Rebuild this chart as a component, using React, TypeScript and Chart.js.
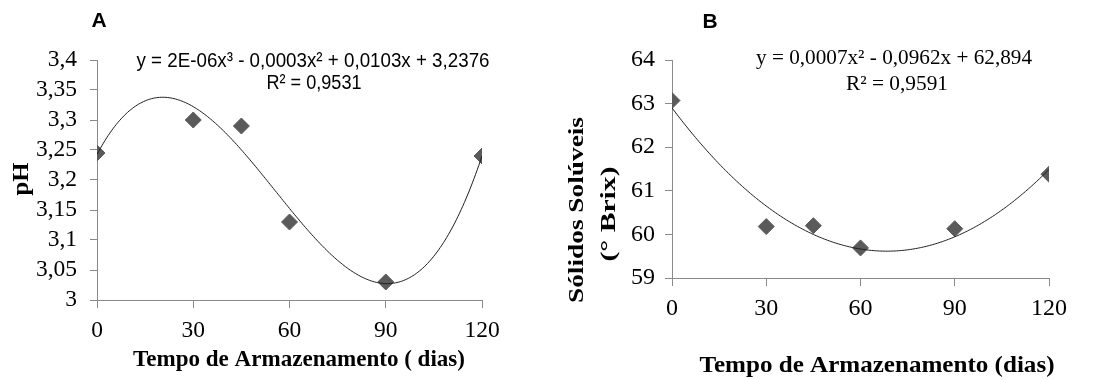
import { useEffect, useRef } from "react";
import { Chart, registerables } from "chart.js";

Chart.register(...registerables);

// Storage time (days) and measured values
const DAYS = [0, 30, 45, 60, 90, 120];
const PH = [3.245, 3.3, 3.29, 3.13, 3.03, 3.24];
const BRIX = [63.07, 60.18, 60.2, 59.69, 60.13, 61.38];

// Axis tick values
const X_TICKS = [0, 30, 60, 90, 120];
const PH_TICKS = [3, 3.05, 3.1, 3.15, 3.2, 3.25, 3.3, 3.35, 3.4];
const BRIX_TICKS = [59, 60, 61, 62, 63, 64];

// Trendline annotations
const PH_EQUATION = "y = 2E-06x³ - 0,0003x² + 0,0103x + 3,2376";
const PH_R2 = "R² = 0,9531";
const BRIX_EQUATION = "y = 0,0007x² - 0,0962x + 62,894";
const BRIX_R2 = "R² = 0,9591";

const X_TITLE_A = "Tempo de Armazenamento ( dias)";
const X_TITLE_B = "Tempo de Armazenamento (dias)";

const MARK = "#5a5a5a";
const AXIS = "#8a8a8a";
const SERIF = "'Liberation Serif', 'Times New Roman', serif";
const SANS = "'Liberation Sans', Arial, sans-serif";

// Least-squares polynomial fit, returns [c0, c1, ..., cdeg]
function polyfit(xs: number[], ys: number[], deg: number): number[] {
  const n = deg + 1;
  const A: number[][] = [];
  for (let r = 0; r < n; r++) {
    const row: number[] = [];
    for (let c = 0; c < n; c++) {
      let s = 0;
      for (let i = 0; i < xs.length; i++) s += Math.pow(xs[i], r + c);
      row.push(s);
    }
    let b = 0;
    for (let i = 0; i < xs.length; i++) b += ys[i] * Math.pow(xs[i], r);
    row.push(b);
    A.push(row);
  }
  for (let col = 0; col < n; col++) {
    let piv = col;
    for (let r = col + 1; r < n; r++) if (Math.abs(A[r][col]) > Math.abs(A[piv][col])) piv = r;
    [A[col], A[piv]] = [A[piv], A[col]];
    for (let r = 0; r < n; r++) {
      if (r === col) continue;
      const f = A[r][col] / A[col][col];
      for (let c = col; c <= n; c++) A[r][c] -= f * A[col][c];
    }
  }
  return A.map((row, i) => row[n] / row[i]);
}

function trendPoints(xs: number[], ys: number[], deg: number) {
  const c = polyfit(xs, ys, deg);
  const lo = xs[0];
  const hi = xs[xs.length - 1];
  const pts: { x: number; y: number }[] = [];
  for (let x = lo; x <= hi; x += 0.5) {
    let y = 0;
    for (let k = 0; k < c.length; k++) y += c[k] * Math.pow(x, k);
    pts.push({ x, y });
  }
  return pts;
}

type Label = {
  text: string;
  x: number;
  y: number;
  font: string;
  width?: number;
  angle?: number;
};

function drawLabel(ctx: CanvasRenderingContext2D, l: Label) {
  ctx.save();
  ctx.translate(l.x, l.y);
  if (l.angle) ctx.rotate(l.angle);
  ctx.font = l.font;
  const w = ctx.measureText(l.text).width;
  if (l.width) ctx.scale(l.width / w, 1);
  ctx.textAlign = "center";
  ctx.textBaseline = "middle";
  ctx.fillStyle = "#000";
  ctx.fillText(l.text, 0, 0);
  ctx.restore();
}

type PanelCfg = {
  ys: number[];
  deg: number;
  yTicks: number[];
  yFmt: (v: number) => string;
  yAxisWidth: number;
  xAxisHeight: number;
  padRight: number;
  tickFont: number;
  yTickLen: number;
  xTickLen: number;
  yPad: number;
  xPad: number;
  labels: Label[];
};

function buildChart(canvas: HTMLCanvasElement, cfg: PanelCfg) {
  const points = DAYS.map((d, i) => ({ x: d, y: cfg.ys[i] }));
  const trend = trendPoints(DAYS, cfg.ys, cfg.deg);
  const tickFont = { family: SERIF, size: cfg.tickFont };
  return new Chart(canvas, {
    type: "scatter",
    data: {
      datasets: [
        {
          data: trend,
          showLine: true,
          pointRadius: 0,
          borderColor: "#1e1e1e",
          borderWidth: 1,
          order: 0,
        },
        {
          data: points,
          pointStyle: "rectRot",
          pointRadius: 8,
          pointHoverRadius: 8,
          backgroundColor: MARK,
          borderColor: MARK,
          borderWidth: 1,
          order: 1,
        },
      ],
    },
    options: {
      responsive: false,
      animation: false,
      events: [],
      layout: { padding: { left: 0, top: 60, right: cfg.padRight, bottom: 0 } },
      plugins: { legend: { display: false }, tooltip: { enabled: false } },
      scales: {
        x: {
          type: "linear",
          min: X_TICKS[0],
          max: X_TICKS[X_TICKS.length - 1],
          afterBuildTicks: (s: any) => {
            s.ticks = X_TICKS.map((v) => ({ value: v }));
          },
          afterFit: (s: any) => {
            s.height = cfg.xAxisHeight;
          },
          grid: { drawOnChartArea: false, drawTicks: true, tickLength: cfg.xTickLen, color: AXIS },
          border: { display: true, color: AXIS, width: 1 },
          ticks: {
            font: tickFont,
            color: "#000",
            padding: cfg.xPad,
            maxRotation: 0,
            autoSkip: false,
            callback: (v: any) => String(v),
          },
        },
        y: {
          type: "linear",
          min: cfg.yTicks[0],
          max: cfg.yTicks[cfg.yTicks.length - 1],
          afterBuildTicks: (s: any) => {
            s.ticks = cfg.yTicks.map((v) => ({ value: v }));
          },
          afterFit: (s: any) => {
            s.width = cfg.yAxisWidth;
          },
          grid: { drawOnChartArea: false, drawTicks: true, tickLength: cfg.yTickLen, color: AXIS },
          border: { display: true, color: AXIS, width: 1 },
          ticks: {
            font: tickFont,
            color: "#000",
            padding: cfg.yPad,
            autoSkip: false,
            callback: (v: any) => cfg.yFmt(Number(v)),
          },
        },
      },
    },
    plugins: [
      {
        id: "panelText",
        afterDraw(chart: any) {
          for (const l of cfg.labels) drawLabel(chart.ctx, l);
        },
      },
    ],
  } as any);
}

const commaFmt = (v: number) => String(Number(v.toFixed(2))).replace(".", ",");

const PANEL_A: PanelCfg = {
  ys: PH,
  deg: 3,
  yTicks: PH_TICKS,
  yFmt: commaFmt,
  yAxisWidth: 97,
  xAxisHeight: 80,
  padRight: 68,
  tickFont: 23.5,
  yTickLen: 7,
  xTickLen: 8,
  yPad: 13,
  xPad: 9,
  labels: [
    { text: "A", x: 99, y: 21, font: `bold 21px ${SANS}` },
    { text: PH_EQUATION, x: 313, y: 61, font: `20px ${SANS}`, width: 353 },
    { text: PH_R2, x: 314, y: 83, font: `20px ${SANS}`, width: 95 },
    { text: "pH", x: 22, y: 179, font: `bold 24px ${SERIF}`, width: 33, angle: -Math.PI / 2 },
    { text: X_TITLE_A, x: 299, y: 360, font: `bold 24px ${SERIF}`, width: 332 },
  ],
};

// Panel B sits on a canvas that starts 550 px from the left edge
const PANEL_B: PanelCfg = {
  ys: BRIX,
  deg: 2,
  yTicks: BRIX_TICKS,
  yFmt: (v: number) => String(v),
  yAxisWidth: 122,
  xAxisHeight: 102,
  padRight: 51,
  tickFont: 24,
  yTickLen: 7,
  xTickLen: 8,
  yPad: 10,
  xPad: 8,
  labels: [
    { text: "B", x: 160, y: 22, font: `bold 21px ${SANS}` },
    { text: BRIX_EQUATION, x: 344, y: 58, font: `22px ${SERIF}`, width: 276 },
    { text: BRIX_R2, x: 347, y: 84, font: `22px ${SERIF}`, width: 102 },
    { text: "Sólidos Solúveis", x: 27, y: 210, font: `bold 22px ${SERIF}`, width: 186, angle: -Math.PI / 2 },
    { text: "(° Brix)", x: 59, y: 214, font: `bold 22px ${SERIF}`, width: 95, angle: -Math.PI / 2 },
    { text: X_TITLE_B, x: 327, y: 366, font: `bold 24px ${SERIF}`, width: 355 },
  ],
};

function Panel({ cfg, left }: { cfg: PanelCfg; left: number }) {
  const ref = useRef<HTMLCanvasElement | null>(null);
  useEffect(() => {
    if (!ref.current) return;
    const chart = buildChart(ref.current, cfg);
    return () => chart.destroy();
  }, [cfg]);
  return (
    <canvas
      ref={ref}
      width={550}
      height={380}
      style={{ position: "absolute", left, top: 0, width: 550, height: 380, display: "block" }}
    />
  );
}

export default function App() {
  return (
    <div
      style={{
        position: "absolute",
        left: 0,
        top: 0,
        width: 1100,
        height: 380,
        background: "#fff",
        overflow: "hidden",
      }}
    >
      <Panel cfg={PANEL_A} left={0} />
      <Panel cfg={PANEL_B} left={550} />
    </div>
  );
}
